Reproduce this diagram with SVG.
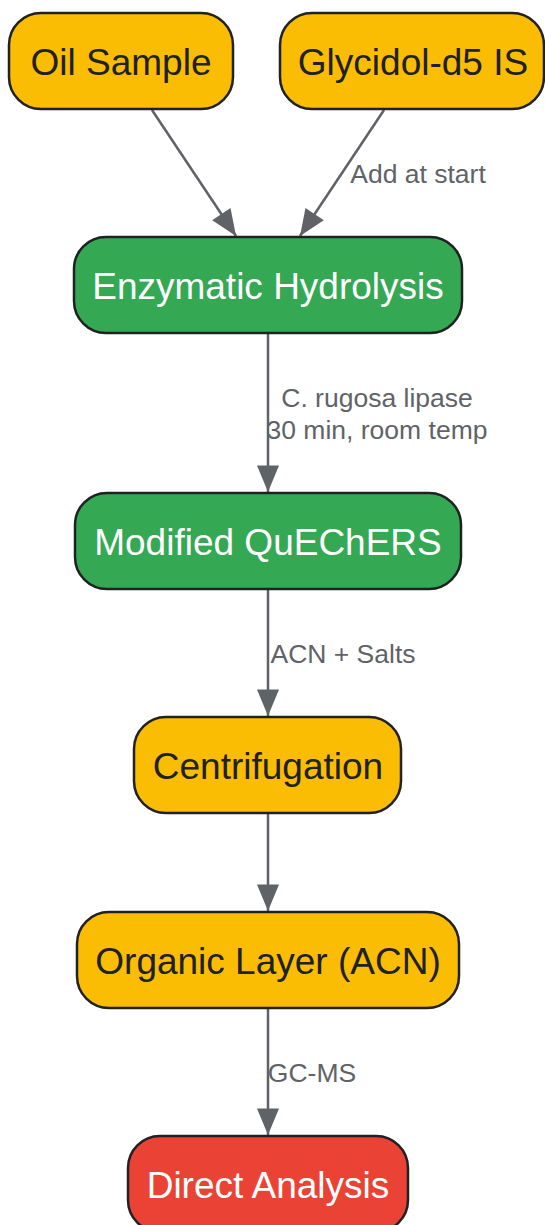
<svg xmlns="http://www.w3.org/2000/svg" width="545" height="1225" viewBox="0 0 545 1225">
<style>
.node rect{stroke:#202124;stroke-width:2.5}
.yellow rect{fill:#FBBC04}
.green rect{fill:#34A853}
.red rect{fill:#EA4335}
.node text{font-family:"Liberation Sans",Arial,sans-serif;font-size:37px;text-anchor:middle}
.yellow text{fill:#202124}
.green text,.red text{fill:#ffffff}
.edge{stroke:#5f6368;stroke-width:2.5;fill:none}
.elabel{font-family:"Liberation Sans",Arial,sans-serif;font-size:26.5px;fill:#5f6368;text-anchor:middle}
</style>
<defs>
<marker id="arrow" viewBox="0 0 12 10" refX="12" refY="5" markerUnits="userSpaceOnUse" markerWidth="31" markerHeight="22" orient="auto">
<path d="M0,0 L12,5 L0,10 z" fill="#5f6368"/>
</marker>
</defs>
<rect width="545" height="1225" fill="#ffffff"/>
<g id="edge-labels">
<text class="elabel" x="418" y="183">Add at start</text>
<text class="elabel" x="377" y="407">C. rugosa lipase</text>
<text class="elabel" x="377" y="439">30 min, room temp</text>
<text class="elabel" x="343" y="663">ACN + Salts</text>
<text class="elabel" x="312" y="1082">GC-MS</text>
</g>
<g id="connectors">
<path class="edge" d="M152,110 L236,236" marker-end="url(#arrow)"/>
<path class="edge" d="M384,110 L300,236" marker-end="url(#arrow)"/>
<path class="edge" d="M268,334 L268,492" marker-end="url(#arrow)"/>
<path class="edge" d="M268,590 L268,716" marker-end="url(#arrow)"/>
<path class="edge" d="M268,814 L268,911" marker-end="url(#arrow)"/>
<path class="edge" d="M268,1009 L268,1135" marker-end="url(#arrow)"/>
</g>
<g id="oil-sample" class="node yellow">
<rect x="9" y="13" width="224" height="96" rx="32"/>
<text x="121" y="75">Oil Sample</text>
</g>
<g id="glycidol-is" class="node yellow">
<rect x="280" y="13" width="264" height="96" rx="32"/>
<text x="413" y="75">Glycidol-d5 IS</text>
</g>
<g id="enzymatic-hydrolysis" class="node green">
<rect x="74" y="237" width="388" height="96" rx="32"/>
<text x="268" y="299">Enzymatic Hydrolysis</text>
</g>
<g id="modified-quechers" class="node green">
<rect x="75" y="493" width="386" height="96" rx="32"/>
<text x="268" y="555">Modified QuEChERS</text>
</g>
<g id="centrifugation" class="node yellow">
<rect x="134" y="717" width="267" height="96" rx="32"/>
<text x="268" y="779">Centrifugation</text>
</g>
<g id="organic-layer" class="node yellow">
<rect x="77" y="912" width="382" height="96" rx="32"/>
<text x="268" y="974">Organic Layer (ACN)</text>
</g>
<g id="direct-analysis" class="node red">
<rect x="128" y="1136" width="280" height="96" rx="32"/>
<text x="268" y="1198">Direct Analysis</text>
</g>
</svg>
